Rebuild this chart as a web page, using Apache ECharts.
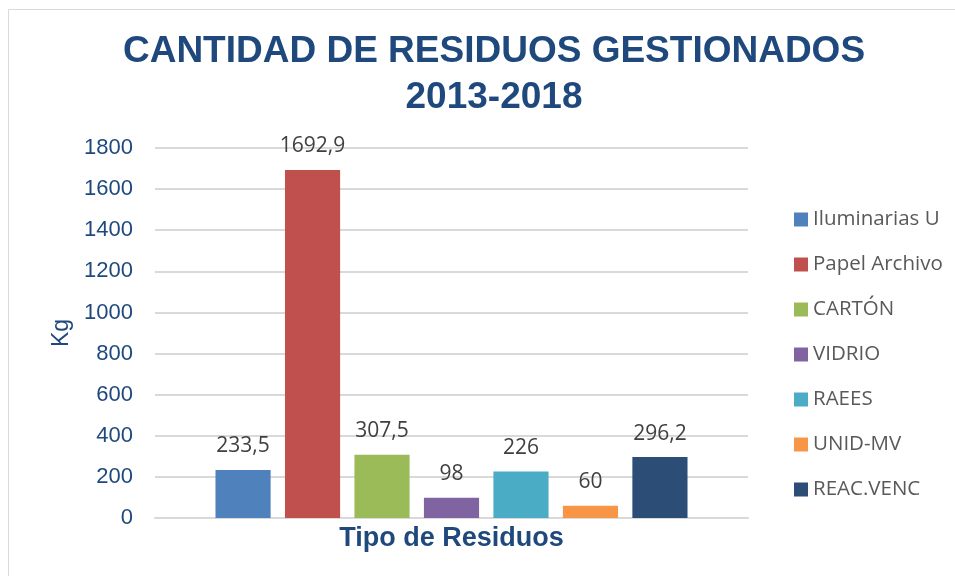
<!DOCTYPE html>
<html>
<head>
<meta charset="utf-8">
<script src="https://cdn.jsdelivr.net/npm/echarts@6/dist/echarts.min.js"></script>
<style>
  html, body { margin: 0; padding: 0; background: #fff; }
  #chart { width: 955px; height: 576px; }
</style>
</head>
<body>
<div id="chart"></div>
<script>
// datos del gráfico
const categorias = ["Tipo de Residuos"]
const residuos = ["Iluminarias U", "Papel Archivo", "CARTÓN", "VIDRIO", "RAEES", "UNID-MV", "REAC.VENC"]
const kilos = [233.5, 1692.9, 307.5, 98, 226, 60, 296.2]
const colores = ["#4F81BD", "#C0504D", "#9BBB59", "#8064A2", "#4BACC6", "#F79646", "#2C4D75"]

const azul = "#1F497D"
const mychart = echarts.init(document.getElementById("chart"))

const series = residuos.map((nombre, i) => ({
  name: nombre,
  type: "bar",
  data: [kilos[i]],
  barGap: "26%",
  barCategoryGap: "20.4%",
  itemStyle: { color: colores[i] },
  label: {
    show: true,
    position: "top",
    distance: 13,
    color: "#404040",
    fontFamily: "Open Sans",
    fontSize: 21,
    formatter: p => String(p.value).replace(".", ",")
  }
}))

const option = {
  animation: false,
  textStyle: { fontFamily: "Liberation Sans" },
  title: {
    text: "CANTIDAD DE RESIDUOS GESTIONADOS\n2013-2018",
    left: 489,
    textAlign: "center",
    top: 24,
    textStyle: {
      color: azul,
      fontSize: 37,
      fontWeight: "bold",
      lineHeight: 46,
      fontFamily: "Liberation Sans"
    }
  },
  legend: {
    orient: "vertical",
    left: 789,
    top: 204,
    itemWidth: 14,
    itemHeight: 14,
    itemGap: 24,
    icon: "rect",
    textStyle: { color: "#595959", fontSize: 20.5, fontFamily: "Open Sans" },
    data: residuos
  },
  grid: { left: 155, right: 207, top: 148, bottom: 58, containLabel: false },
  xAxis: {
    type: "category",
    data: categorias,
    axisLine: { show: true, lineStyle: { color: "#d9d9d9", width: 2 } },
    axisTick: { show: false },
    axisLabel: {
      show: true,
      color: azul,
      fontSize: 27,
      fontWeight: "bold",
      margin: 7
    }
  },
  yAxis: {
    type: "value",
    min: 0,
    max: 1800,
    interval: 200,
    name: "Kg",
    nameLocation: "middle",
    nameGap: 80,
    nameTextStyle: { color: azul, fontSize: 23 },
    axisLine: { show: false },
    axisTick: { show: false },
    axisLabel: { color: azul, fontSize: 22, margin: 22, formatter: v => String(v) },
    splitLine: { lineStyle: { color: "#d9d9d9", width: 2 } }
  },
  graphic: [
    {
      type: "rect",
      shape: { x: 8.5, y: 9.5, width: 1000, height: 700 },
      style: { fill: "none", stroke: "#d9d9d9", lineWidth: 1 },
      silent: true
    }
  ],
  series: series
}
mychart.setOption(option)
</script>
</body>
</html>
